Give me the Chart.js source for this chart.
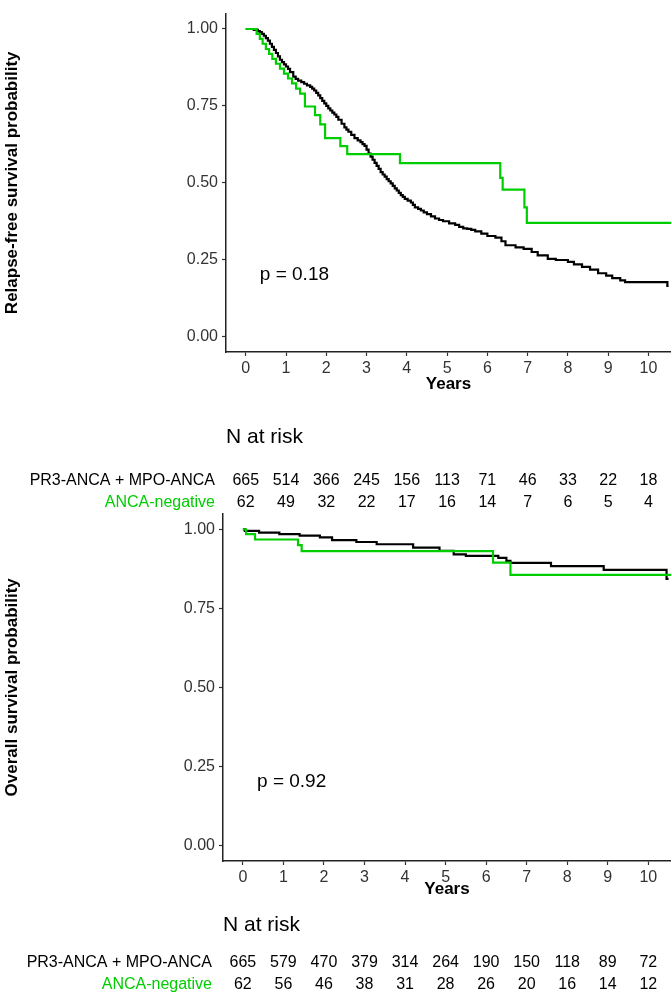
<!DOCTYPE html>
<html>
<head>
<meta charset="utf-8">
<script src="https://cdn.jsdelivr.net/npm/chart.js@4.4.1/dist/chart.umd.min.js"></script>
<style>
  html, body { margin: 0; padding: 0; background: #ffffff; }
  body { width: 671px; height: 1000px; position: relative; overflow: hidden; }
  .wrap { position: absolute; left: 0; width: 671px; }
  #w1 { top: 0px; height: 515px; }
  #w2 { top: 500px; height: 500px; }
  canvas { display: block; }
</style>
</head>
<body>
<div class="wrap" id="w1"><canvas id="c1" width="671" height="515"></canvas></div>
<div class="wrap" id="w2"><canvas id="c2" width="671" height="500"></canvas></div>
<script>
// ---------- DATA ----------
const groupNames = ['PR3-ANCA + MPO-ANCA', 'ANCA-negative'];
const xTicks = [0, 1, 2, 3, 4, 5, 6, 7, 8, 9, 10];
const yTicks = [0, 0.25, 0.5, 0.75, 1];
const yTickLabels = ['0.00', '0.25', '0.50', '0.75', '1.00'];
const riskTimes = [0, 1, 2, 3, 4, 5, 6, 7, 8, 9, 10];

// Relapse-free survival: PR3-ANCA + MPO-ANCA
const rfsPosTime = [0, 0.2, 0.3, 0.35, 0.4, 0.45, 0.5, 0.55, 0.6, 0.65, 0.7, 0.75, 0.8, 0.85, 0.9, 0.95, 1.0, 1.05, 1.1, 1.18, 1.24, 1.3, 1.38, 1.45, 1.52, 1.6, 1.65, 1.7, 1.75, 1.8, 1.85, 1.9, 1.95, 2.0, 2.05, 2.1, 2.15, 2.2, 2.25, 2.3, 2.38, 2.45, 2.5, 2.55, 2.62, 2.7, 2.78, 2.85, 2.9, 2.95, 3.0, 3.05, 3.1, 3.15, 3.2, 3.25, 3.3, 3.35, 3.4, 3.45, 3.5, 3.55, 3.6, 3.65, 3.7, 3.75, 3.8, 3.85, 3.9, 3.95, 4.02, 4.1, 4.15, 4.2, 4.28, 4.35, 4.42, 4.5, 4.6, 4.7, 4.8, 4.9, 5.05, 5.2, 5.3, 5.4, 5.5, 5.6, 5.7, 5.85, 6.0, 6.2, 6.35, 6.45, 6.7, 6.9, 7.1, 7.25, 7.5, 7.7, 8.0, 8.15, 8.35, 8.55, 8.75, 8.95, 9.1, 9.3, 9.42, 10.47, 10.5];
const rfsPosSurv = [1.0, 0.997, 0.993, 0.99, 0.984, 0.978, 0.97, 0.962, 0.952, 0.942, 0.932, 0.922, 0.911, 0.9, 0.892, 0.885, 0.878, 0.87, 0.86, 0.845, 0.838, 0.832, 0.827, 0.822, 0.817, 0.812, 0.806, 0.8, 0.792, 0.784, 0.775, 0.766, 0.758, 0.75, 0.742, 0.735, 0.728, 0.722, 0.714, 0.705, 0.692, 0.68, 0.673, 0.666, 0.656, 0.645, 0.638, 0.632, 0.626, 0.62, 0.608, 0.595, 0.585, 0.575, 0.565, 0.555, 0.545, 0.535, 0.527, 0.52, 0.512, 0.505, 0.498, 0.49, 0.482, 0.475, 0.467, 0.46, 0.454, 0.448, 0.442, 0.436, 0.428, 0.42, 0.415, 0.41, 0.404, 0.398, 0.391, 0.384, 0.379, 0.375, 0.368, 0.363, 0.357, 0.352, 0.35, 0.347, 0.342, 0.335, 0.327, 0.322, 0.31, 0.297, 0.29, 0.285, 0.275, 0.264, 0.253, 0.249, 0.243, 0.235, 0.227, 0.218, 0.206, 0.198, 0.19, 0.183, 0.177, 0.165, 0.165];

// Relapse-free survival: ANCA-negative
const rfsNegTime = [0, 0.27, 0.35, 0.42, 0.5, 0.58, 0.66, 0.75, 0.85, 0.95, 1.05, 1.15, 1.25, 1.35, 1.47, 1.72, 1.85, 1.97, 2.35, 2.52, 3.83, 6.32, 6.38, 6.92, 6.98, 10.7];
const rfsNegSurv = [1.0, 0.984, 0.968, 0.952, 0.935, 0.919, 0.903, 0.887, 0.871, 0.855, 0.839, 0.823, 0.806, 0.79, 0.748, 0.72, 0.69, 0.645, 0.619, 0.593, 0.564, 0.516, 0.478, 0.42, 0.37, 0.37];

// Overall survival: PR3-ANCA + MPO-ANCA
const osPosTime = [0, 0.05, 0.4, 0.9, 1.4, 1.9, 2.2, 2.8, 3.3, 4.2, 4.85, 5.2, 5.5, 6.3, 6.5, 6.6, 7.6, 8.9, 10.45, 10.5];
const osPosSurv = [1.0, 0.995, 0.99, 0.985, 0.98, 0.975, 0.966, 0.96, 0.953, 0.942, 0.932, 0.921, 0.916, 0.91, 0.9, 0.894, 0.884, 0.872, 0.843, 0.843];

// Overall survival: ANCA-negative
const osNegTime = [0, 0.08, 0.3, 1.36, 1.45, 6.17, 6.6, 10.7];
const osNegSurv = [1.0, 0.985, 0.968, 0.95, 0.931, 0.895, 0.856, 0.856];

// Numbers at risk
const rfsRiskPos = [665, 514, 366, 245, 156, 113, 71, 46, 33, 22, 18];
const rfsRiskNeg = [62, 49, 32, 22, 17, 16, 14, 7, 6, 5, 4];
const osRiskPos = [665, 579, 470, 379, 314, 264, 190, 150, 118, 89, 72];
const osRiskNeg = [62, 56, 46, 38, 31, 28, 26, 20, 16, 14, 12];

const rfsPValue = 'p = 0.18';
const osPValue = 'p = 0.92';

// ---------- STYLE ----------
const FONT = "'Liberation Sans', Arial, Helvetica, sans-serif";
const BLACK = '#000000';
const GREEN = '#00CD00';

function pts(t, s) { return t.map((v, i) => ({ x: v, y: s[i] })); }

function riskPlugin(posRisk, negRisk, pText, layout) {
  return {
    id: 'riskTable',
    afterDraw(chart) {
      const ctx = chart.ctx;
      const xs = chart.scales.x;
      const ys = chart.scales.y;
      const ca = chart.chartArea;
      ctx.save();
      // p-value
      ctx.font = '19px ' + FONT;
      ctx.fillStyle = '#000';
      ctx.textAlign = 'left';
      ctx.textBaseline = 'middle';
      ctx.fillText(pText, xs.getPixelForValue(0.35), ys.getPixelForValue(layout.pY));
      // title
      ctx.font = '21px ' + FONT;
      ctx.fillText('N at risk', ca.left, layout.titleY);
      // rows
      ctx.font = '16px ' + FONT;
      ctx.textAlign = 'right';
      ctx.fillStyle = '#000';
      ctx.fillText(groupNames[0], ca.left - 11, layout.row1Y);
      ctx.fillStyle = GREEN;
      ctx.fillText(groupNames[1], ca.left - 11, layout.row2Y);
      ctx.textAlign = 'center';
      ctx.fillStyle = '#000';
      riskTimes.forEach((t, i) => {
        const px = xs.getPixelForValue(t);
        ctx.fillText(String(posRisk[i]), px, layout.row1Y);
        ctx.fillText(String(negRisk[i]), px, layout.row2Y);
      });
      ctx.restore();
    }
  };
}

function makeChart(id, opts) {
  const ctx = document.getElementById(id).getContext('2d');
  return new Chart(ctx, {
    type: 'line',
    data: {
      datasets: [
        {
          label: groupNames[0],
          data: pts(opts.posT, opts.posS),
          borderColor: BLACK,
          borderWidth: 2.2,
          pointRadius: 0,
          stepped: 'before',
          tension: 0,
          fill: false,
          order: 2
        },
        {
          label: groupNames[1],
          data: pts(opts.negT, opts.negS),
          borderColor: GREEN,
          borderWidth: 2.2,
          pointRadius: 0,
          stepped: 'before',
          tension: 0,
          fill: false,
          order: 1
        }
      ]
    },
    options: {
      responsive: false,
      animation: false,
      devicePixelRatio: 1,
      layout: { padding: { left: 0, right: 0, top: opts.padTop, bottom: opts.padBottom } },
      plugins: { legend: { display: false }, tooltip: { enabled: false } },
      scales: {
        x: {
          type: 'linear',
          min: -0.49,
          max: 10.56,
          afterBuildTicks: s => { s.ticks = xTicks.map(v => ({ value: v })); },
          afterFit: s => { s.height = opts.xAxisH; },
          ticks: {
            font: { family: FONT, size: 16 },
            color: '#333333',
            padding: 3,
            maxRotation: 0,
            autoSkip: false,
            callback: v => String(v)
          },
          grid: { display: true, drawOnChartArea: false, drawTicks: true, tickLength: 4, tickColor: '#333333', tickWidth: 1.2 },
          border: { display: true, color: '#222222', width: 1.5 },
          title: {
            display: true,
            text: 'Years',
            font: { family: FONT, size: 17, weight: 'bold' },
            color: '#000',
            padding: { top: 0, bottom: 0 }
          }
        },
        y: {
          type: 'linear',
          min: -0.05,
          max: 1.05,
          afterBuildTicks: s => { s.ticks = yTicks.map(v => ({ value: v })); },
          afterFit: s => { s.width = opts.yAxisW; },
          ticks: {
            font: { family: FONT, size: 16 },
            color: '#333333',
            padding: 4,
            autoSkip: false,
            callback: v => yTickLabels[yTicks.indexOf(v)]
          },
          grid: { display: true, drawOnChartArea: false, drawTicks: true, tickLength: 4, tickColor: '#333333', tickWidth: 1.2 },
          border: { display: true, color: '#222222', width: 1.5 },
          title: {
            display: true,
            text: opts.yTitle,
            font: { family: FONT, size: 17, weight: 'bold' },
            color: '#000',
            padding: { top: 2, bottom: 0 }
          }
        }
      }
    },
    plugins: [riskPlugin(opts.riskPos, opts.riskNeg, opts.pText, opts.layout)]
  });
}

makeChart('c1', {
  posT: rfsPosTime, posS: rfsPosSurv, negT: rfsNegTime, negS: rfsNegSurv,
  riskPos: rfsRiskPos, riskNeg: rfsRiskNeg, pText: rfsPValue,
  yTitle: 'Relapse-free survival probability',
  padTop: 1, xAxisH: 43, padBottom: 515 - 352 - 43, yAxisW: 226,
  layout: { pY: 0.2, titleY: 437, row1Y: 481, row2Y: 503 }
});

makeChart('c2', {
  posT: osPosTime, posS: osPosSurv, negT: osNegTime, negS: osNegSurv,
  riskPos: osRiskPos, riskNeg: osRiskNeg, pText: osPValue,
  yTitle: 'Overall survival probability',
  padTop: 11, xAxisH: 39, padBottom: 500 - 361 - 39, yAxisW: 223,
  layout: { pY: 0.2, titleY: 425, row1Y: 463, row2Y: 485 }
});
</script>
</body>
</html>
